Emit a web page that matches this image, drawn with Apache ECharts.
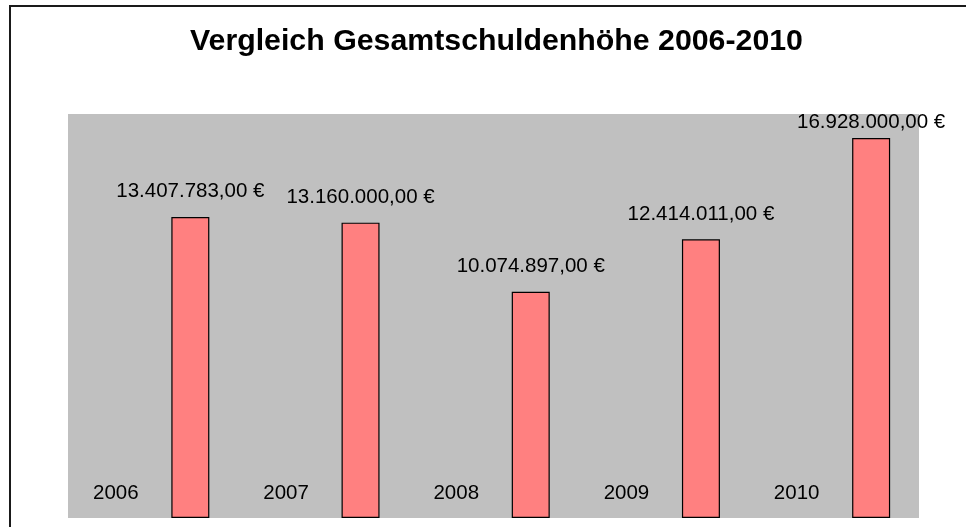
<!DOCTYPE html>
<html>
<head>
<meta charset="utf-8">
<script src="https://cdn.jsdelivr.net/npm/echarts@6/dist/echarts.min.js"></script>
<style>
html,body{margin:0;padding:0;background:#fff;}
#chart{width:966px;height:527px;}
</style>
</head>
<body>
<div id="chart"></div>
<script>
var titleText = 'Vergleich Gesamtschuldenhöhe 2006-2010';
var years = [2006, 2007, 2008, 2009, 2010];
var categories = ['2006', '2007', '2008', '2009', '2010'];
var debtValues = [13407783, 13160000, 10074897, 12414011, 16928000];
var yMin = 0;
var yMax = 18000000;

function formatEuro(v) {
  var intPart = Math.floor(v);
  var cents = Math.round((v - intPart) * 100);
  var s = String(intPart).replace(/\B(?=(\d{3})+(?!\d))/g, '.');
  return s + ',' + (cents < 10 ? '0' + cents : cents) + ' €';
}

var chart = echarts.init(document.getElementById('chart'), null, {renderer: 'canvas'});
var font = 'Liberation Sans, Arial, Helvetica, sans-serif';
var plotTop = 114;
chart.setOption({
  backgroundColor: '#ffffff',
  animation: false,
  title: {
    text: titleText,
    left: 190,
    top: 27,
    padding: 0,
    textStyle: {fontFamily: font, fontSize: 30.3, fontWeight: 'bold', color: '#000'}
  },
  graphic: [{
    type: 'rect',
    shape: {x: 10, y: 6, width: 1000, height: 600},
    style: {fill: 'none', stroke: '#1a1a1a', lineWidth: 2},
    silent: true
  }],
  grid: {
    left: 68, right: 47, top: plotTop, bottom: 9,
    show: true, backgroundColor: '#C0C0C0', borderWidth: 0
  },
  xAxis: {
    type: 'category',
    data: categories,
    axisLine: {show: false}, axisTick: {show: false}, axisLabel: {show: false}, splitLine: {show: false}
  },
  yAxis: {
    type: 'value', min: yMin, max: yMax,
    axisLine: {show: false}, axisTick: {show: false}, axisLabel: {show: false}, splitLine: {show: false}
  },
  series: [{
    name: 'Jahr',
    type: 'bar',
    data: years,
    barWidth: 38,
    barGap: '96%',
    itemStyle: {color: 'rgba(0,0,0,0)'},
    label: {
      show: true, position: 'top', distance: 14,
      formatter: function (p) { return String(p.value); },
      fontFamily: font, fontSize: 20.5, color: '#000'
    }
  }, {
    name: 'Gesamtschulden',
    type: 'bar',
    data: debtValues,
    barWidth: 38,
    itemStyle: {color: '#FF8080', borderColor: '#000', borderWidth: 1.2},
    label: {
      show: true, position: 'top', distance: 15,
      formatter: function (p) { return formatEuro(p.value); },
      fontFamily: font, fontSize: 20.5, color: '#000'
    },
    labelLayout: function (params) {
      var minTop = plotTop - 2;
      var r = params.labelRect;
      if (r && r.y < minTop) {
        return {x: r.x, y: minTop, align: 'left', verticalAlign: 'top'};
      }
      return {};
    }
  }]
});
</script>
</body>
</html>
